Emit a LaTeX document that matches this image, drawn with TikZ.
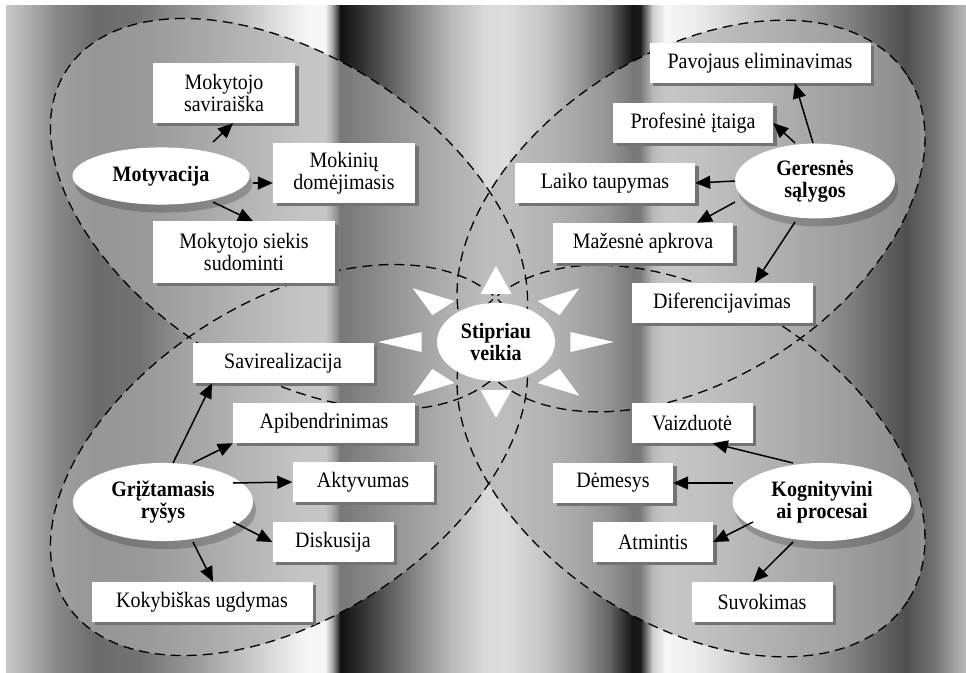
\documentclass[tikz,border=0pt]{standalone}
\usepackage{fontspec}
\setmainfont{Liberation Serif}
\usetikzlibrary{shapes.geometric,arrows.meta,shadows}

\begin{document}
\begin{tikzpicture}[x=1pt,y=-1pt,
  % text is set 20pt wide and drawn 10% taller
  box/.style={font=\fontsize{20}{20}\selectfont,yscale=1.1,fill=white,inner sep=0pt,align=center,
    minimum height=36.4pt,
    drop shadow={shadow xshift=3.5pt,shadow yshift=-3.2pt,fill=black!55,opacity=1}},
  hub/.style={font=\fontsize{20}{20}\selectfont\bfseries,yscale=1.1,ellipse,fill=white,inner sep=0pt,align=center,
    drop shadow={shadow xshift=3pt,shadow yshift=-8pt,fill=black,opacity=0.2}},
  arr/.style={-{Triangle[length=15pt,width=13pt]},line width=1.5pt},
  lobeline/.style={dash pattern=on 10pt off 6pt,line width=1.3pt},
]
\useasboundingbox (0,0) rectangle (966,672);
\fill[white] (0,0) rectangle (966,672);

% shaded vertical columns behind the diagram
\foreach \xa/\ga/\xb/\gb in {
   6/78/25/70, 25/70/55/54, 55/54/95/42, 95/42/140/45, 140/45/200/62,
   200/62/260/82, 260/82/305/96, 305/96/325/97, 325/97/333/60, 333/60/340/6,
   340/6/370/25, 370/25/410/50, 410/50/450/72, 450/72/483/85, 483/85/505/87,
   505/87/545/77, 545/77/580/60, 580/60/610/38, 610/38/632/8, 632/8/640/10,
   640/10/652/80, 652/80/665/97, 665/97/700/92, 700/92/780/70, 780/70/850/50,
   850/50/905/31, 905/31/935/45, 935/45/966/74}
  \shade[left color=white!\ga!black,right color=white!\gb!black] (\xa,5) rectangle (\xb+0.7,672);

% the four lobes, filled as one union
\fill[white!68!black,fill opacity=0.66]
  plot[domain=0:360,samples=120,variable=\t]
    ({289+265*cos(\t)*cos(32.8)-158*sin(\t)*sin(32.8)},{214+265*cos(\t)*sin(32.8)+158*sin(\t)*cos(32.8)}) -- cycle
  plot[domain=0:360,samples=120,variable=\t]
    ({289+265*cos(\t)*cos(-32.8)-158*sin(\t)*sin(-32.8)},{460+265*cos(\t)*sin(-32.8)+158*sin(\t)*cos(-32.8)}) -- cycle
  plot[domain=0:360,samples=120,variable=\t]
    ({691+258*cos(\t)*cos(-32.9)-163*sin(\t)*sin(-32.9)},{216+258*cos(\t)*sin(-32.9)+163*sin(\t)*cos(-32.9)}) -- cycle
  plot[domain=0:360,samples=120,variable=\t]
    ({691+258*cos(\t)*cos(32.9)-163*sin(\t)*sin(32.9)},{461+258*cos(\t)*sin(32.9)+163*sin(\t)*cos(32.9)}) -- cycle;

% dashed outlines of the lobes
\draw[lobeline] plot[domain=0:360,samples=120,variable=\t]
    ({289+265*cos(\t)*cos(32.8)-158*sin(\t)*sin(32.8)},{214+265*cos(\t)*sin(32.8)+158*sin(\t)*cos(32.8)}) -- cycle;
\draw[lobeline] plot[domain=0:360,samples=120,variable=\t]
    ({289+265*cos(\t)*cos(-32.8)-158*sin(\t)*sin(-32.8)},{460+265*cos(\t)*sin(-32.8)+158*sin(\t)*cos(-32.8)}) -- cycle;
\draw[lobeline] plot[domain=0:360,samples=120,variable=\t]
    ({691+258*cos(\t)*cos(-32.9)-163*sin(\t)*sin(-32.9)},{216+258*cos(\t)*sin(-32.9)+163*sin(\t)*cos(-32.9)}) -- cycle;
\draw[lobeline] plot[domain=0:360,samples=120,variable=\t]
    ({691+258*cos(\t)*cos(32.9)-163*sin(\t)*sin(32.9)},{461+258*cos(\t)*sin(32.9)+163*sin(\t)*cos(32.9)}) -- cycle;

% sun rays round the centre
\begin{scope}[shift={(496,342)},xscale=1.55]
  \foreach \a in {0,45,...,315}
    \fill[white,rotate=\a] (48,-10) -- (76,0) -- (48,10) -- cycle;
\end{scope}
\node[font=\fontsize{20}{20}\selectfont\bfseries,yscale=1.1,ellipse,fill=white,inner sep=0pt,align=center,
  minimum width=118pt,minimum height=71pt] (stip) at (496,342) {Stipriau\\veikia};

% Motyvacija
\node[hub,minimum width=177pt,minimum height=52pt] (mot) at (161,176) {Motyvacija};
\node[box,minimum width=142pt,minimum height=54.5pt] (sav) at (224,93) {Mokytojo\\saviraiška};
\node[box,minimum width=142pt,minimum height=54.5pt] (dom) at (344,173) {Mokinių\\domėjimasis};
\node[box,minimum width=182pt,minimum height=55.5pt] (siek) at (244,252) {Mokytojo siekis\\sudominti};
\draw[arr] ([shift={(52,-34)}]mot.center) -- ([shift={(9,0)}]sav.south);
\draw[arr] ([shift={(92,7)}]mot.center) -- ([shift={(0,10)}]dom.west);
\draw[arr] ([shift={(52,26)}]mot.center) -- ([shift={(9,0)}]siek.north);

% Geresnės sąlygos
\node[hub,minimum width=160pt,minimum height=68pt] (ger) at (815,181) {Geresnės\\sąlygos};
\node[box,minimum width=221pt] (pav) at (760,63) {Pavojaus eliminavimas};
\node[box,minimum width=160pt] (prof) at (693,123) {Profesinė įtaiga};
\node[box,minimum width=180pt] (laiko) at (605,183) {Laiko taupymas};
\node[box,minimum width=180pt] (maz) at (643,243) {Mažesnė apkrova};
\node[box,minimum width=181pt] (dif) at (722,303) {Diferencijavimas};
\draw[arr] ([shift={(-2,-38)}]ger.center) -- ([shift={(35,0)}]pav.south);
\draw[arr] ([shift={(-20,-38)}]ger.center) -- (prof.east);
\draw[arr] ([shift={(-80,0)}]ger.center) -- (laiko.east);
\draw[arr] ([shift={(-80,21)}]ger.center) -- ([shift={(54,0)}]maz.north);
\draw[arr] ([shift={(-20,41)}]ger.center) -- ([shift={(33,0)}]dif.north);

% Grįžtamasis ryšys
\node[hub,minimum width=180pt,minimum height=71pt] (grz) at (163,502) {Grįžtamasis\\ryšys};
\node[box,minimum width=181pt] (savr) at (283,363) {Savirealizacija};
\node[box,minimum width=182pt] (apib) at (324,423) {Apibendrinimas};
\node[box,minimum width=141pt] (akt) at (363,482) {Aktyvumas};
\node[box,minimum width=121pt] (disk) at (333,542) {Diskusija};
\node[box,minimum width=221pt] (koky) at (202,602) {Kokybiškas ugdymas};
\draw[arr] ([shift={(10,-39)}]grz.center) -- ([shift={(-71,0)}]savr.south);
\draw[arr] ([shift={(30,-39)}]grz.center) -- (apib.south west);
\draw[arr] ([shift={(70,-19)}]grz.center) -- (akt.west);
\draw[arr] ([shift={(70,20)}]grz.center) -- (disk.west);
\draw[arr] ([shift={(30,40)}]grz.center) -- ([shift={(11,0)}]koky.north);

% Kognityviniai procesai
\node[hub,minimum width=179pt,minimum height=71pt] (kog) at (822,502) {Kognityvini\\ai procesai};
\node[box,minimum width=121pt] (vaiz) at (692,423) {Vaizduotė};
\node[box,minimum width=120pt] (dem) at (613,483) {Dėmesys};
\node[box,minimum width=120pt] (atm) at (653,542) {Atmintis};
\node[box,minimum width=141pt] (suv) at (762,602) {Suvokimas};
\draw[arr] ([shift={(-29,-39)}]kog.center) -- ([shift={(-40,0)}]vaiz.south east);
\draw[arr] ([shift={(-89,-19)}]kog.center) -- (dem.east);
\draw[arr] ([shift={(-69,20)}]kog.center) -- (atm.east);
\draw[arr] ([shift={(-29,40)}]kog.center) -- ([shift={(-9,0)}]suv.north);
\end{tikzpicture}
\end{document}
